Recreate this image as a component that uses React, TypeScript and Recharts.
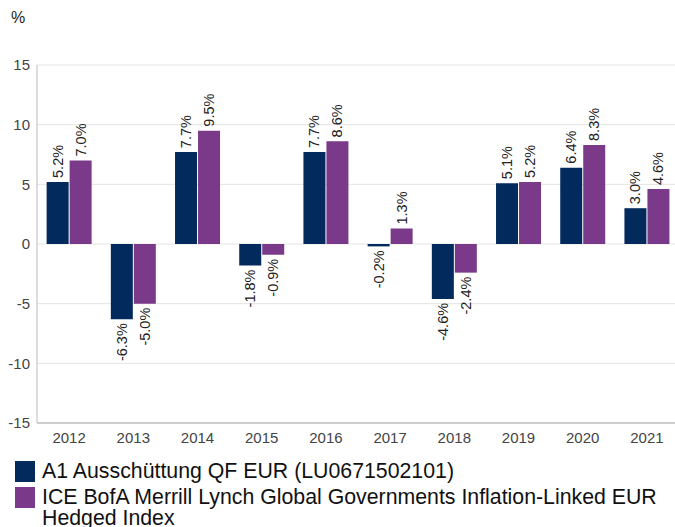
import React from "react";
import { BarChart, Bar, XAxis, YAxis, CartesianGrid, LabelList } from "recharts";

const years = ["2012", "2013", "2014", "2015", "2016", "2017", "2018", "2019", "2020", "2021"];
const fundValues = [5.2, -6.3, 7.7, -1.8, 7.7, -0.2, -4.6, 5.1, 6.4, 3.0];
const indexValues = [7.0, -5.0, 9.5, -0.9, 8.6, 1.3, -2.4, 5.2, 8.3, 4.6];
const yTicks = [-15, -10, -5, 0, 5, 10, 15];
const seriesNames = [
  "A1 Ausschüttung QF EUR (LU0671502101)",
  "ICE BofA Merrill Lynch Global Governments Inflation-Linked EUR Hedged Index",
];
const seriesColors = ["#022a5c", "#7b3a89"];

const data = years.map((y, i) => ({ year: y, fund: fundValues[i], index: indexValues[i] }));

const FONT = "Arial, 'Liberation Sans', sans-serif";

const renderLabel = (props: any) => {
  const { x, y, width, height, value } = props;
  const top = Math.min(y, y + height);
  const bottom = Math.max(y, y + height);
  const cx = x + width / 2;
  const neg = value < 0;
  const ty = neg ? bottom + 4 : top - 4;
  return (
    <text
      x={cx}
      y={ty}
      transform={`rotate(-90, ${cx}, ${ty})`}
      textAnchor={neg ? "end" : "start"}
      dominantBaseline="central"
      fontSize={14.5}
      fontFamily={FONT}
      fill="#222"
    >
      {value.toFixed(1) + "%"}
    </text>
  );
};

export default function App() {
  return (
    <div style={{ position: "fixed", left: 0, top: 0, width: 675, height: 527, background: "#fff", fontFamily: FONT, overflow: "hidden" }}>
      <div style={{ position: "absolute", left: 11, top: 9, fontSize: 16, color: "#222" }}>%</div>
      <BarChart
        width={675}
        height={460}
        data={data}
        margin={{ top: 65, right: -4, bottom: 7, left: 0 }}
        barCategoryGap="15%"
        barGap={1}
      >
        <CartesianGrid horizontal vertical={false} stroke="#e4e4e4" />
        <XAxis
          dataKey="year"
          height={30}
          tickLine={false}
          tickSize={0}
          tickMargin={9}
          axisLine={{ stroke: "#aaaaaa" }}
          tick={{ fontSize: 15, fill: "#444", fontFamily: FONT }}
          interval={0}
        />
        <YAxis
          width={37}
          domain={[-15, 15]}
          ticks={yTicks}
          tickLine={false}
          tickSize={0}
          tickMargin={7}
          axisLine={{ stroke: "#bbbbbb" }}
          tick={{ fontSize: 15, fill: "#444", fontFamily: FONT }}
          allowDataOverflow
        />
        <Bar dataKey="fund" fill={seriesColors[0]} isAnimationActive={false}>
          <LabelList dataKey="fund" content={renderLabel} />
        </Bar>
        <Bar dataKey="index" fill={seriesColors[1]} isAnimationActive={false}>
          <LabelList dataKey="index" content={renderLabel} />
        </Bar>
      </BarChart>
      <div style={{ position: "absolute", left: 15, top: 461, width: 655 }}>
        {seriesNames.map((name, i) => (
          <div key={name} style={{ display: "flex", alignItems: "flex-start", marginBottom: 5 }}>
            <div style={{ width: 20, height: 21, background: seriesColors[i], flex: "0 0 auto" }} />
            <div style={{ marginLeft: 7, fontSize: 21.3, lineHeight: "20.5px", color: "#111", width: 625, whiteSpace: "normal" }}>{name}</div>
          </div>
        ))}
      </div>
    </div>
  );
}
